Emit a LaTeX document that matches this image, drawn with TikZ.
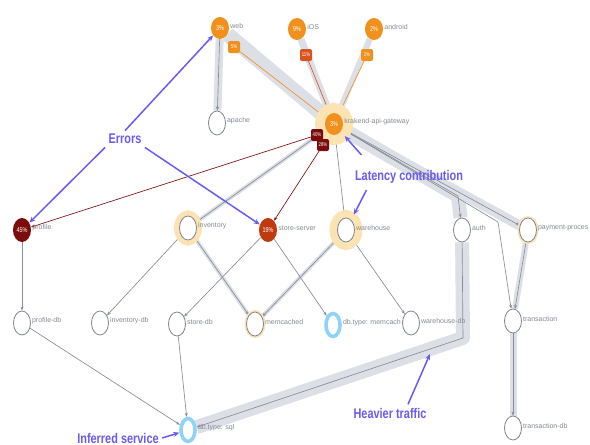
\documentclass[tikz,border=0pt]{standalone}
\usepackage{fontspec}
\setmainfont{Liberation Sans}
\newfontfamily\narrowfont[FakeStretch=0.78]{Liberation Sans}
\usetikzlibrary{arrows.meta,backgrounds,shapes.geometric}

\definecolor{svcorange}{HTML}{F0911E}
\definecolor{svcred}{HTML}{D9531E}
\definecolor{errred}{HTML}{C03A10}
\definecolor{darkred}{HTML}{7C0C0C}
\definecolor{halocol}{HTML}{FBE3B4}
\definecolor{skyring}{HTML}{8FD3F8}
\definecolor{bandgray}{HTML}{DDDFE7}
\definecolor{edgegray}{HTML}{878C96}
\definecolor{ringgray}{HTML}{7F848C}
\definecolor{labgray}{HTML}{858A92}
\definecolor{notecol}{HTML}{6A5BF0}

\begin{document}
\begin{tikzpicture}[x=1pt,y=-1pt,
    svc/.style={ellipse,draw=ringgray,line width=0.8pt,fill=white,minimum width=17pt,minimum height=24pt,inner sep=0pt},
    hot/.style={ellipse,fill=#1,text=white,minimum width=18pt,minimum height=22pt,inner sep=0pt,font=\narrowfont\fontsize{7}{8}\selectfont},
    halo/.style={preaction={draw=halocol,line width=#1}},
    inferred/.style={ellipse,draw=skyring,line width=3.6pt,fill=white,minimum width=14pt,minimum height=23pt,inner sep=0pt},
    badge/.style={rounded corners=2pt,fill=#1,text=white,minimum size=12pt,inner sep=0pt,font=\narrowfont\fontsize{5.5}{6}\selectfont},
    lab/.style={text=labgray,font=\fontsize{7}{8}\selectfont,inner sep=1pt,yshift=2pt},
    flow/.style={draw=edgegray,line width=0.65pt,-{Stealth[length=4pt,width=3pt]}},
    traffic/.style={draw=bandgray,line width=#1,line join=round},
    note/.style={text=notecol,font=\narrowfont\bfseries\fontsize{14}{16}\selectfont},
    callout/.style={draw=notecol,line width=1.5pt,-{Stealth[length=6pt,width=5pt]}}
]
\useasboundingbox (0,0) rectangle (590,445);

%% clients
\node[hot=svcorange,label={[lab]east:web}] (web) at (220,28) {3\%};
\node[hot=svcorange,label={[lab]east:iOS}] (ios) at (297,29) {9\%};
\node[hot=svcorange,label={[lab]east:android}] (android) at (374,29) {2\%};
\node[badge=svcorange] (b5) at (234,47) {5\%};
\node[badge=svcred] (b11) at (306,55) {11\%};
\node[badge=svcorange] (b2) at (367,55) {2\%};

%% gateway
\node[svc,label={[lab]east:apache}] (apache) at (217,123) {};
\node[hot=svcorange,halo=20pt,label={[lab]east:krakend-api-gateway}] (gw) at (334,124) {3\%};
\node[badge=darkred] (b40) at (317,135) {40\%};
\node[badge=darkred] (b28) at (323,145) {28\%};

%% services
\node[hot=darkred,minimum height=24pt,label={[lab]east:profile}] (profile) at (22,230) {45\%};
\node[svc,halo=11pt,label={[lab]east:inventory}] (inventory) at (188,228) {};
\node[hot=errred,minimum height=24pt,label={[lab]east:store-server}] (store) at (268,230) {19\%};
\node[svc,halo=16pt,label={[lab]east:warehouse}] (warehouse) at (346,230) {};
\node[svc,label={[lab]east:auth}] (auth) at (462,230) {};
\node[svc,halo=4pt,label={[lab]east:payment-proces}] (payment) at (528,230) {};

%% stores
\node[svc,label={[lab]east:profile-db}] (profiledb) at (22,323) {};
\node[svc,label={[lab]east:inventory-db}] (inventorydb) at (100,323) {};
\node[svc,label={[lab]east:store-db}] (storedb) at (177,324) {};
\node[svc,halo=4pt,label={[lab]east:memcached}] (memcached) at (255,324) {};
\node[inferred,label={[lab]east:db.type: memcach}] (memdb) at (333,325) {};
\node[svc,label={[lab]east:warehouse-db}] (warehousedb) at (411,323) {};
\node[svc,label={[lab]east:transaction}] (transaction) at (513,321) {};
\node[inferred,label={[lab]east:db.type: sql}] (sql) at (188,430) {};
\node[svc,label={[lab]east:transaction-db}] (txdb) at (513,428) {};

\coordinate (authbend) at (458,196);
\coordinate (sqlbend) at (463,338);
\coordinate (tbend) at (498,222);
\coordinate (bandedge) at (430,354);

\begin{scope}[on background layer]
  \fill[white] (0,0) rectangle (590,445);
  %% heavy traffic
  \draw[traffic=8pt] (web) -- (apache);
  \draw[traffic=15pt] (web) -- (gw);
  \draw[traffic=7pt] (ios) -- (gw);
  \draw[traffic=6pt] (android) -- (gw);
  \draw[traffic=14pt] (gw) -- (authbend) -- (auth) -- (sqlbend) -- (sql);
  \draw[traffic=10pt] (gw) -- (payment);
  \draw[traffic=6pt] (payment) -- (transaction);
  \draw[traffic=7pt] (transaction) -- (txdb);
  \draw[traffic=4pt] (gw) -- (inventory);
  \draw[traffic=4pt] (inventory) -- (memcached);
  \draw[traffic=4pt] (warehouse) -- (memcached);
  %% calls
  \draw[flow] (web) -- (apache);
  \draw[flow,draw=svcorange] (b5) -- (gw);
  \draw[flow,draw=svcred] (b11) -- (gw);
  \draw[flow,draw=svcorange] (b2) -- (gw);
  \draw[flow,draw=darkred] (b40) -- (profile);
  \draw[flow,draw=darkred] (b28) -- (store);
  \draw[flow] (gw) -- (warehouse);
  \draw[flow] (gw) -- (inventory);
  \draw[flow] (gw) -- (authbend) -- (auth);
  \draw[flow] (gw) -- (payment);
  \draw[flow] (gw) -- (tbend) -- (transaction);
  \draw[flow] (payment) -- (transaction);
  \draw[flow] (transaction) -- (txdb);
  \draw[flow] (auth) -- (sqlbend) -- (sql);
  \draw[flow] (profile) -- (profiledb);
  \draw[flow] (profiledb) -- (sql);
  \draw[flow] (storedb) -- (sql);
  \draw[flow] (inventory) -- (inventorydb);
  \draw[flow] (inventory) -- (memcached);
  \draw[flow] (store) -- (storedb);
  \draw[flow] (store) -- (memdb);
  \draw[flow] (warehouse) -- (memcached);
  \draw[flow] (warehouse) -- (warehousedb);
\end{scope}

%% annotations
\node[note] (errors) at (125,139) {Errors};
\node[note] (latency) at (409,177) {Latency contribution};
\node[note] (heavier) at (390,413) {Heavier traffic};
\node[note] (inferrednote) at (118,438) {Inferred service};

\draw[callout] (errors.north) -- (web);
\draw[callout] (errors.south west) -- (profile);
\draw[callout] (errors.south east) -- (store);
\draw[callout,shorten >=6pt] ([xshift=10pt,yshift=12pt]latency.north west) -- (gw);
\draw[callout,shorten >=6pt] ([xshift=15pt,yshift=-3pt]latency.south west) -- (warehouse);
\draw[callout] ([xshift=18pt]heavier.north) -- (bandedge);
\draw[callout] (inferrednote.east) -- (sql);
\end{tikzpicture}
\end{document}
